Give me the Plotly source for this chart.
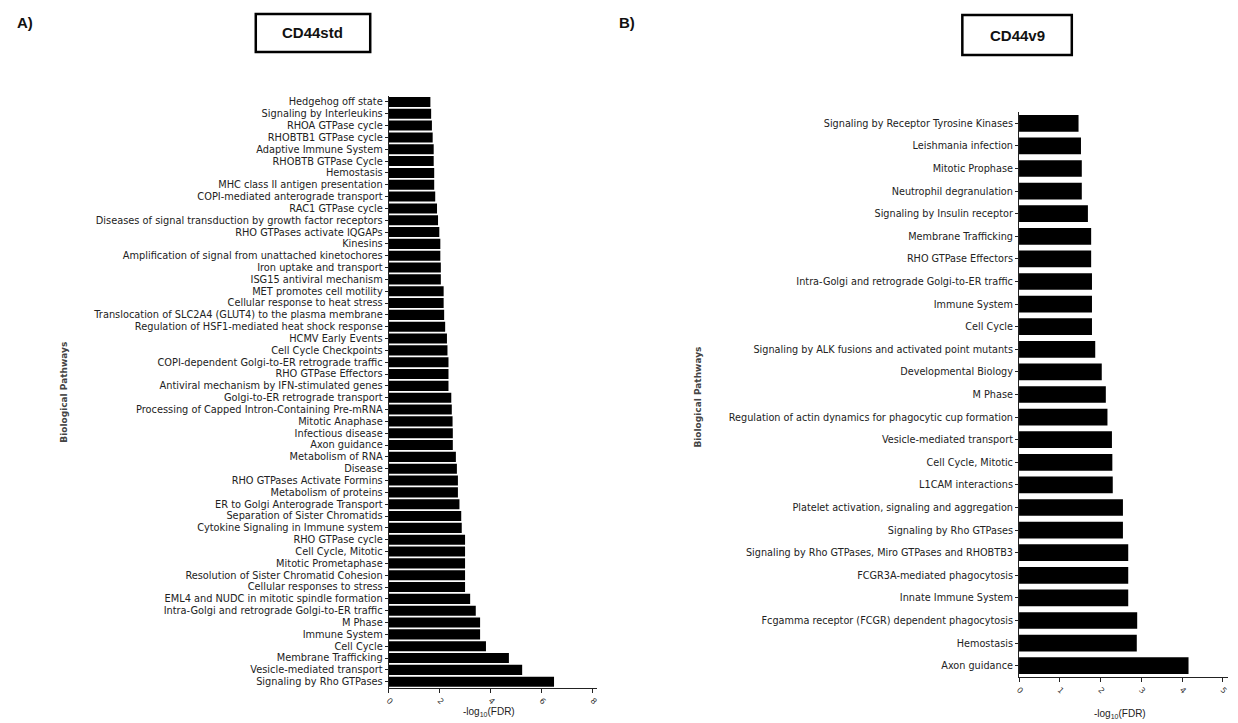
import plotly.graph_objects as go

# Panel A: CD44std enriched pathways (top of list = top of chart)
std_pathways = [
    "Hedgehog off state", "Signaling by Interleukins", "RHOA GTPase cycle",
    "RHOBTB1 GTPase cycle", "Adaptive Immune System", "RHOBTB GTPase Cycle",
    "Hemostasis", "MHC class II antigen presentation",
    "COPI-mediated anterograde transport", "RAC1 GTPase cycle",
    "Diseases of signal transduction by growth factor receptors",
    "RHO GTPases activate IQGAPs", "Kinesins",
    "Amplification of signal from unattached kinetochores",
    "Iron uptake and transport", "ISG15 antiviral mechanism",
    "MET promotes cell motility", "Cellular response to heat stress",
    "Translocation of SLC2A4 (GLUT4) to the plasma membrane",
    "Regulation of HSF1-mediated heat shock response", "HCMV Early Events",
    "Cell Cycle Checkpoints", "COPI-dependent Golgi-to-ER retrograde traffic",
    "RHO GTPase Effectors", "Antiviral mechanism by IFN-stimulated genes",
    "Golgi-to-ER retrograde transport",
    "Processing of Capped Intron-Containing Pre-mRNA", "Mitotic Anaphase",
    "Infectious disease", "Axon guidance", "Metabolism of RNA", "Disease",
    "RHO GTPases Activate Formins", "Metabolism of proteins",
    "ER to Golgi Anterograde Transport", "Separation of Sister Chromatids",
    "Cytokine Signaling in Immune system", "RHO GTPase cycle",
    "Cell Cycle, Mitotic", "Mitotic Prometaphase",
    "Resolution of Sister Chromatid Cohesion", "Cellular responses to stress",
    "EML4 and NUDC in mitotic spindle formation",
    "Intra-Golgi and retrograde Golgi-to-ER traffic", "M Phase",
    "Immune System", "Cell Cycle", "Membrane Trafficking",
    "Vesicle-mediated transport", "Signaling by Rho GTPases",
]
std_values = [
    1.63, 1.66, 1.69, 1.72, 1.76, 1.76, 1.78, 1.78, 1.82, 1.89,
    1.93, 1.98, 2.02, 2.02, 2.04, 2.04, 2.15, 2.15, 2.17, 2.21,
    2.28, 2.30, 2.34, 2.34, 2.34, 2.45, 2.47, 2.50, 2.51, 2.51,
    2.63, 2.67, 2.71, 2.71, 2.77, 2.84, 2.86, 2.99, 2.99, 2.99,
    2.99, 2.99, 3.19, 3.41, 3.58, 3.58, 3.81, 4.71, 5.23, 6.48,
]
std_ticks = [0, 2, 4, 6, 8]

# Panel B: CD44v9 enriched pathways
v9_pathways = [
    "Signaling by Receptor Tyrosine Kinases", "Leishmania infection",
    "Mitotic Prophase", "Neutrophil degranulation",
    "Signaling by Insulin receptor", "Membrane Trafficking",
    "RHO GTPase Effectors", "Intra-Golgi and retrograde Golgi-to-ER traffic",
    "Immune System", "Cell Cycle",
    "Signaling by ALK fusions and activated point mutants",
    "Developmental Biology", "M Phase",
    "Regulation of actin dynamics for phagocytic cup formation",
    "Vesicle-mediated transport", "Cell Cycle, Mitotic", "L1CAM interactions",
    "Platelet activation, signaling and aggregation",
    "Signaling by Rho GTPases",
    "Signaling by Rho GTPases, Miro GTPases and RHOBTB3",
    "FCGR3A-mediated phagocytosis", "Innate Immune System",
    "Fcgamma receptor (FCGR) dependent phagocytosis", "Hemostasis",
    "Axon guidance",
]
v9_values = [
    1.46, 1.52, 1.54, 1.54, 1.69, 1.77, 1.77, 1.79, 1.79, 1.79,
    1.87, 2.03, 2.13, 2.17, 2.28, 2.29, 2.30, 2.55, 2.55, 2.68,
    2.68, 2.68, 2.90, 2.89, 4.16,
]
v9_ticks = [0, 1, 2, 3, 4, 5]

W, H = 1238, 723
FONT = "Liberation Sans, Arial, sans-serif"
WIDE = "DejaVu Sans, sans-serif"


def px(x):
    return x / W


def py(y):
    return 1 - y / H


fig = go.Figure()
fig.add_trace(go.Bar(x=std_values, y=std_pathways, orientation="h", width=0.85,
                     marker=dict(color="black", line=dict(width=0)),
                     xaxis="x", yaxis="y", showlegend=False))
fig.add_trace(go.Bar(x=v9_values, y=v9_pathways, orientation="h", width=0.74,
                     marker=dict(color="black", line=dict(width=0)),
                     xaxis="x2", yaxis="y2", showlegend=False))

xcommon = dict(showgrid=False, zeroline=False, showline=True, linecolor="#222",
               linewidth=1.3, ticks="outside", ticklen=4, tickwidth=1,
               tickcolor="#222", tickangle=45,
               tickfont=dict(family=WIDE, size=8, color="#333"))
ycommon = dict(showgrid=False, zeroline=False, showline=True, linecolor="#222",
               linewidth=1.3, ticks="outside", ticklen=3, tickwidth=1,
               tickcolor="#222", autorange="reversed", type="category",
               tickmode="array")

fig.update_layout(
    width=W, height=H,
    margin=dict(l=0, r=0, t=0, b=0),
    paper_bgcolor="white", plot_bgcolor="white",
    xaxis=dict(domain=[px(386.7), px(595.5)], range=[0, 8.15],
               tickvals=std_ticks, anchor="y", **xcommon),
    yaxis=dict(domain=[py(687.6), py(96)], anchor="x",
               tickvals=std_pathways, ticktext=std_pathways,
               tickfont=dict(family=WIDE, size=9.8, color="#222"), **ycommon),
    xaxis2=dict(domain=[px(1020), px(1230)], range=[0, 5.13],
                tickvals=v9_ticks, anchor="y2", **xcommon),
    yaxis2=dict(domain=[py(677), py(112)], anchor="x2",
                tickvals=v9_pathways, ticktext=v9_pathways,
                tickfont=dict(family=WIDE, size=9.7, color="#222"), **ycommon),
)


def note(x, y, text, size, color="#111", family=FONT, angle=0):
    fig.add_annotation(x=px(x), y=py(y), xref="paper", yref="paper",
                       text=text, showarrow=False, textangle=angle,
                       xanchor="center", yanchor="middle",
                       font=dict(family=family, size=size, color=color))


# Titles in framed boxes
boxes = [(253, 14, 368, 52, "CD44std"), (963, 15, 1073, 55, "CD44v9")]
for x0, y0, x1, y1, label in boxes:
    fig.add_shape(type="rect", xref="paper", yref="paper",
                  x0=px(x0), x1=px(x1), y0=py(y1), y1=py(y0),
                  line=dict(color="black", width=2.5), fillcolor="white",
                  layer="below")
    note((x0 + x1) / 2, (y0 + y1) / 2, "<b>%s</b>" % label, 15)

# Panel letters
note(21, 22, "<b>A)</b>", 15)
note(626, 22, "<b>B)</b>", 15)

# Axis titles
for x, y in [(60, 392), (697, 397)]:
    note(x, y, "<b>Biological Pathways</b>", 9, color="#444",
         family=WIDE, angle=-90)
for x, y in [(487, 712), (1121, 714)]:
    note(x, y, "-log<sub>10</sub>(FDR)", 10, color="#222")

fig.write_html("out.html")
